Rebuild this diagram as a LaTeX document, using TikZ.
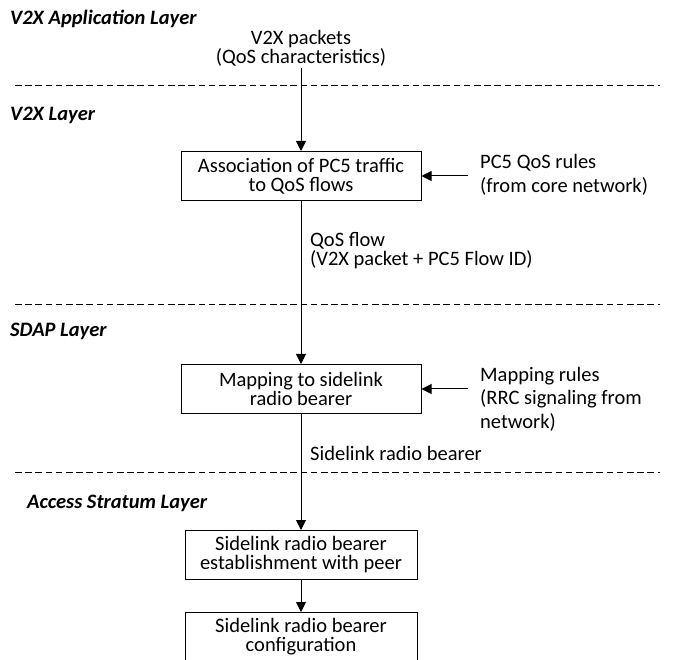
\documentclass[tikz,border=0pt]{standalone}
\usepackage{fontspec}
\setmainfont{Carlito}
\usetikzlibrary{arrows.meta}

\begin{document}
\begin{tikzpicture}[x=1pt,y=-1pt,
    every node/.style={font=\fontsize{20.5}{19}\selectfont},
    layer/.style={anchor=west,inner sep=0pt,font=\fontsize{20.5}{19}\selectfont\bfseries\itshape},
    block/.style={draw,line width=1pt,minimum width=240pt,minimum height=49pt,align=center,inner sep=2pt},
    side/.style={anchor=west,align=left,inner sep=0pt,font=\fontsize{20.5}{23.5}\selectfont},
    note/.style={anchor=west,align=left,inner sep=0pt},
    sep/.style={dash pattern=on 6.5pt off 3.7pt,line width=0.9pt},
    arr/.style={-{Triangle[width=10pt,length=10pt]},line width=1pt}]
    \useasboundingbox (0,0) rectangle (678,660);
    \clip (0,0) rectangle (678,660);
    \draw[sep] (15,85) -- (660,85);
    \draw[sep] (15,304) -- (660,304);
    \draw[sep] (15,472) -- (660,472);
    \node[layer] (lapp) at (10,19) {V2X Application Layer};
    \node[layer] (lv2x) at (10,115) {V2X Layer};
    \node[layer] (lsdap) at (10,331) {SDAP Layer};
    \node[layer] (las) at (27,503) {Access Stratum Layer};
    \node[align=center,inner sep=2pt] (pkt) at (301,48) {V2X packets\\(QoS characteristics)};
    \node[block] (assoc) at (301,176) {Association of PC5 traffic\\to QoS flows};
    \node[block] (map) at (301,389) {Mapping to sidelink\\radio bearer};
    \node[block,minimum width=232pt] (estab) at (301,555) {Sidelink radio bearer\\establishment with peer};
    \node[block,minimum width=232pt] (conf) at (301,637) {Sidelink radio bearer\\configuration};
    \node[side] (rules) at (480,175) {PC5 QoS rules\\(from core network)};
    \node[side] (mrules) at (480,399) {Mapping rules\\(RRC signaling from\\network)};
    \node[note] (flow) at (310,251) {QoS flow\\(V2X packet + PC5 Flow ID)};
    \node[note] (slrb) at (310,453) {Sidelink radio bearer};
    \coordinate (rin) at (468,176);
    \coordinate (min) at (468,389);
    \draw[arr] (pkt) -- (assoc);
    \draw[arr] (rin) -- (assoc.east);
    \draw[arr] (assoc) -- (map);
    \draw[arr] (min) -- (map.east);
    \draw[arr] (map) -- (estab);
    \draw[arr] (estab) -- (conf);
\end{tikzpicture}
\end{document}
